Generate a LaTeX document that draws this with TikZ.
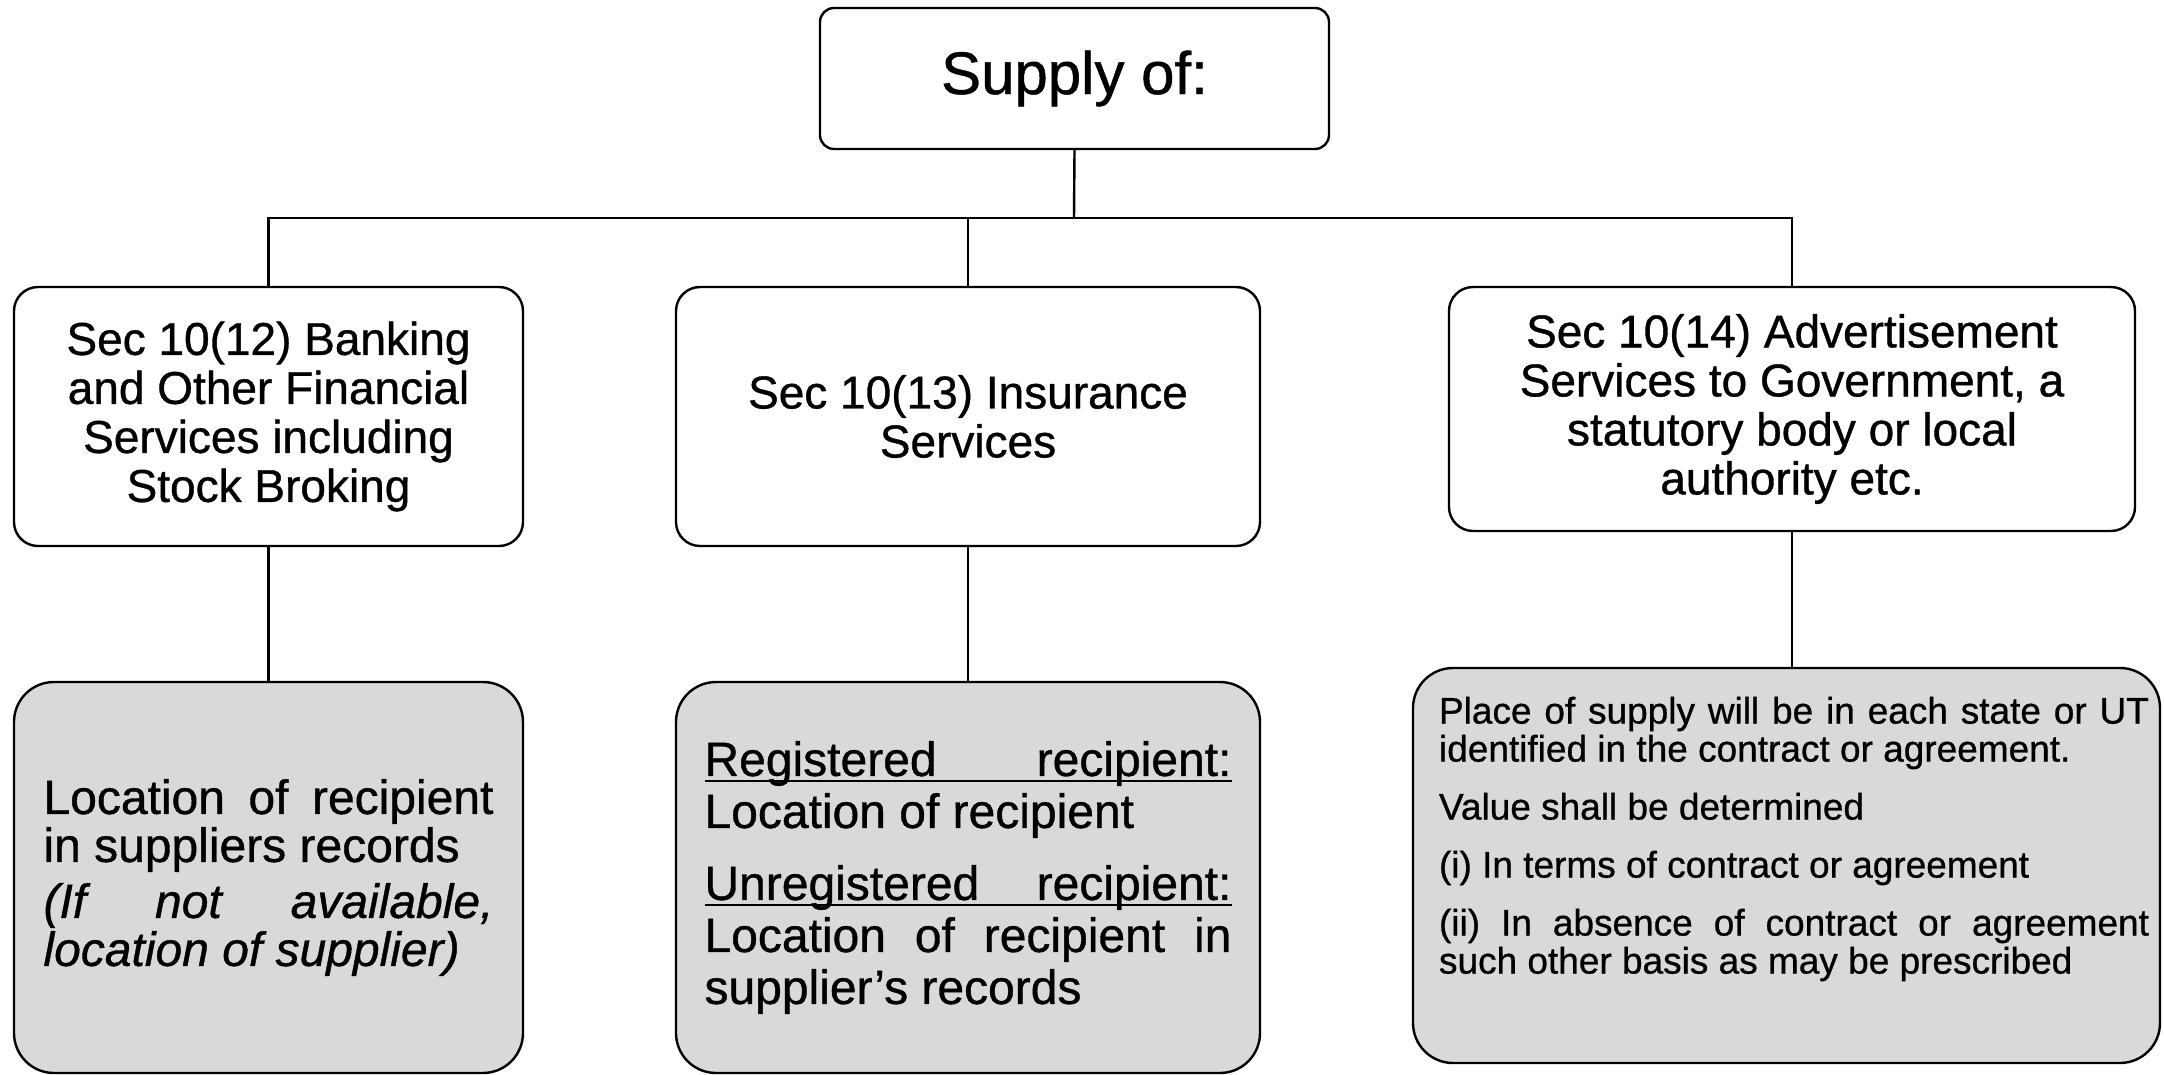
\documentclass[tikz,border=0pt]{standalone}
\usepackage{fontspec}
\setmainfont[RawFeature={embolden=0.8}]{Liberation Sans}
\usepackage{tikz}
\usetikzlibrary{positioning,calc}
\definecolor{gsBox}{HTML}{D9D9D9}
\newcommand{\gsline}[1]{\makebox[\linewidth][s]{#1}\llap{\rule[-3pt]{\linewidth}{1pt}}}
\tikzset{
  gsnode/.style={draw, line width=1.2pt, align=center, inner sep=2pt},
  headbox/.style={gsnode, rounded corners=7pt, minimum width=254.5pt, minimum height=70.5pt,
    font=\fontsize{30}{32}\selectfont},
  secbox/.style={gsnode, rounded corners=12pt, minimum height=129.5pt,
    font=\fontsize{23}{24.5}\selectfont},
  rulebox/.style={gsnode, fill=gsBox, rounded corners=20pt, minimum height=195.5pt},
  ruletext/.style={align=justify, inner sep=0pt},
  link/.style={line width=1.2pt}
}

\begin{document}
\begin{tikzpicture}[x=0.5pt, y=-0.5pt]
  \useasboundingbox (0,0) rectangle (2164,1075);
  \node[headbox] (supply) at (1074.5,78.5) {Supply of:};
  \node[secbox, minimum width=254.5pt] (bank) at (268.5,416.5)
    {Sec 10(12) Banking\\and Other Financial\\Services including\\Stock Broking};
  \node[secbox, minimum width=292pt] (insur) at (968,416.5)
    {Sec 10(13) Insurance\\Services};
  \node[secbox, minimum width=343pt, minimum height=122pt] (adv) at (1792,409)
    {Sec 10(14) Advertisement\\Services to Government, a\\statutory body or local\\authority etc.};
  \node[rulebox, minimum width=254.5pt, text width=225pt, align=justify,
    font=\fontsize{24}{24}\selectfont] (bankrule) at (268.5,877.5)
    {\setlength{\parskip}{4pt}Location of recipient in suppliers records\par
     \textit{(If not available,\linebreak \mbox{location} of supplier)}};
  \node[rulebox, minimum width=292pt, text width=263.5pt, align=justify,
    font=\fontsize{24}{26}\selectfont] (insrule) at (968,877.5)
    {\setlength{\parskip}{10pt}\gsline{Registered recipient:} Location of recipient\par
     \gsline{Unregistered recipient:} Location of recipient in supplier’s records};
  \node[rulebox, minimum width=373.5pt, minimum height=197.5pt] (advrule) at (1786.5,865.5) {};
  \node[ruletext, text width=355pt, font=\fontsize{18.5}{19}\selectfont] (advtext) at (1794,839)
    {\setlength{\parskip}{10pt}Place of supply will be in each state or UT identified in the contract or agreement.\par
     Value shall be determined\par
     (i) In terms of contract or agreement\par
     (ii) In absence of contract or agreement such other basis as may be prescribed};
  \coordinate (bus) at (1074,218);
  \draw[link] (supply.south) -- (bus);
  \draw[link] (bank.north) |- (bus);
  \draw[link] (insur.north) |- (bus);
  \draw[link] (adv.north) |- (bus);
  \draw[link] (bank.south) -- (bankrule.north);
  \draw[link] (insur.south) -- (insrule.north);
  \draw[link] (adv.south) -- (adv.south |- advrule.north);
\end{tikzpicture}
\end{document}
